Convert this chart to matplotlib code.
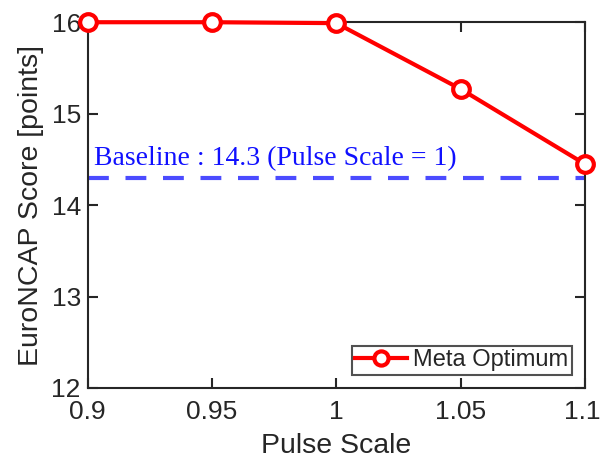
import matplotlib
matplotlib.use("Agg")
import matplotlib.pyplot as plt
import matplotlib.transforms as mtransforms

pulse_scale = [0.9, 0.95, 1.0, 1.05, 1.1]
meta_optimum = [16.0, 16.0, 15.99, 15.27, 14.45]
baseline_value = 14.3
xticks = [0.9, 0.95, 1.0, 1.05, 1.1]
xtick_labels = ["0.9", "0.95", "1", "1.05", "1.1"]
yticks = [12, 13, 14, 15, 16]

plt.rcParams['font.family'] = ['Liberation Sans', 'DejaVu Sans']

fig = plt.figure(figsize=(6.01, 4.63), dpi=100)
ax = fig.add_axes([0.146, 0.162, 0.827, 0.790])

ax.axhline(baseline_value, color='#4b4bff', lw=3, dashes=(5, 4), zorder=2)
ax.plot(pulse_scale, meta_optimum, color='#ff0000', lw=3, marker='o', ms=12,
        mfc='white', mec='#ff0000', mew=3, label='Meta Optimum', zorder=3, clip_on=False)
ax.text(0.9025, baseline_value + 0.07, 'Baseline : 14.3 (Pulse Scale = 1)',
        family=['Liberation Serif'], fontsize=20, color='#1010ff', va='bottom', ha='left')

ax.set_xlim(0.9, 1.1)
ax.set_ylim(12, 16)
ax.set_xticks(xticks)
ax.set_xticklabels(xtick_labels)
ax.set_yticks(yticks)
ax.tick_params(direction='in', length=7, width=1.5, top=True, right=True,
               labelsize=19, colors='#262626')
ax.tick_params(axis='x', pad=9)
ax.tick_params(axis='y', pad=5)
# keep the last x tick label inside the figure
last = ax.get_xticklabels()[-1]
last.set_transform(last.get_transform() + mtransforms.ScaledTranslation(-3/100, 0, fig.dpi_scale_trans))
for s in ax.spines.values():
    s.set_linewidth(1.5)
    s.set_color('#262626')
ax.set_xlabel('Pulse Scale', fontsize=20.5, color='#262626', labelpad=6)
ax.set_ylabel('EuroNCAP Score [points]', fontsize=20.5, color='#262626', labelpad=5)

leg = ax.legend(loc='lower right', fontsize=17, frameon=True, fancybox=False,
                edgecolor='#262626', borderpad=0.15, handlelength=2.2, handletextpad=0.25,
                borderaxespad=0.55, markerscale=0.85)
leg.get_frame().set_linewidth(1.5)
for t in leg.get_texts():
    t.set_color('#262626')

fig.savefig('out.png', dpi=100)
